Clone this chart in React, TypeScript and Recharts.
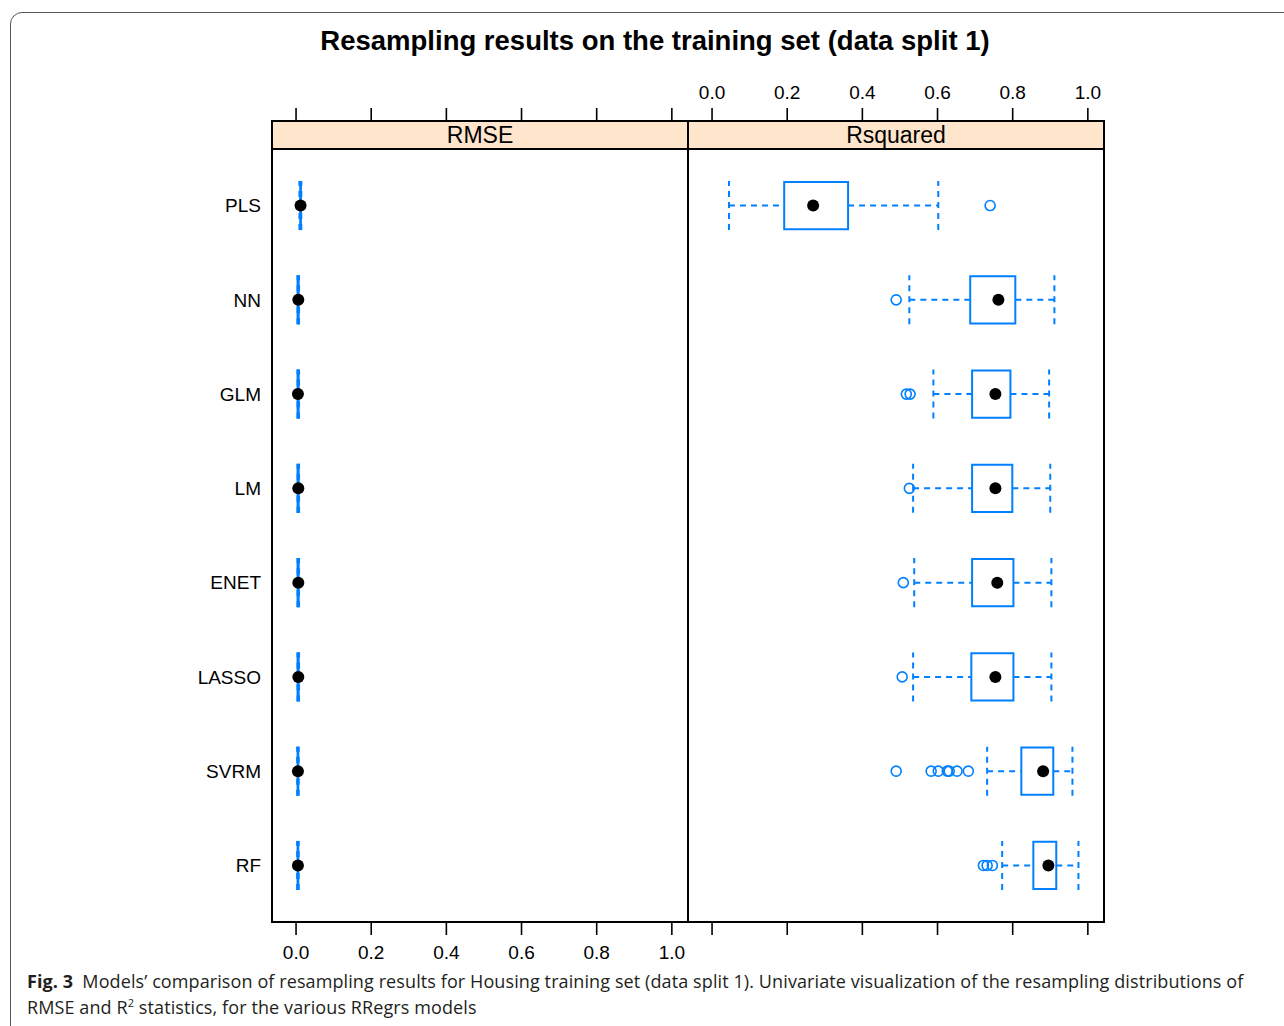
import React from 'react';
import { ComposedChart, XAxis, YAxis, Scatter, ReferenceArea, ReferenceLine } from 'recharts';

const MODELS = ['PLS', 'NN', 'GLM', 'LM', 'ENET', 'LASSO', 'SVRM', 'RF'];
const X_TICKS = [0, 0.2, 0.4, 0.6, 0.8, 1.0];
const Y_TICKS = [1, 2, 3, 4, 5, 6, 7, 8];

const RMSE_MIN = [0.009, 0.004, 0.004, 0.004, 0.004, 0.004, 0.003, 0.003];
const RMSE_Q1 = [0.011, 0.004, 0.004, 0.004, 0.004, 0.004, 0.004, 0.004];
const RMSE_MED = [0.012, 0.006, 0.005, 0.006, 0.006, 0.006, 0.005, 0.005];
const RMSE_Q3 = [0.013, 0.007, 0.007, 0.007, 0.007, 0.007, 0.006, 0.006];
const RMSE_MAX = [0.014, 0.008, 0.008, 0.008, 0.008, 0.008, 0.007, 0.007];
const RMSE_OUT: number[][] = [[], [], [], [], [], [], [], []];

const RSQ_MIN = [0.045, 0.525, 0.589, 0.535, 0.538, 0.535, 0.732, 0.772];
const RSQ_Q1 = [0.192, 0.687, 0.692, 0.692, 0.692, 0.69, 0.823, 0.855];
const RSQ_MED = [0.269, 0.762, 0.754, 0.754, 0.759, 0.754, 0.881, 0.895];
const RSQ_Q3 = [0.362, 0.807, 0.794, 0.799, 0.802, 0.802, 0.908, 0.916];
const RSQ_MAX = [0.602, 0.911, 0.897, 0.9, 0.903, 0.903, 0.959, 0.975];
const RSQ_OUT: number[][] = [
  [0.74],
  [0.49],
  [0.517, 0.527],
  [0.525],
  [0.509],
  [0.506],
  [0.49, 0.583, 0.602, 0.626, 0.631, 0.652, 0.682],
  [0.722, 0.732, 0.746],
];

const X_DOMAIN: [number, number] = [-0.064, 1.043];
const Y_DOMAIN: [number, number] = [0.4, 8.897];
const STRIP_BOTTOM = 8.6;
const BLUE = '#0080ff';
const FONT = '"Liberation Sans", Arial, Helvetica, sans-serif';

type Stats = { min: number[]; q1: number[]; med: number[]; q3: number[]; max: number[]; out: number[][] };

const StripLabel = (props: any) => {
  const vb = props.viewBox || {};
  return (
    <text
      x={vb.x + vb.width / 2}
      y={vb.y + vb.height / 2}
      textAnchor="middle"
      dominantBaseline="central"
      fontSize={23}
      fontFamily={FONT}
      fill="#000"
    >
      {props.text}
    </text>
  );
};

const MedianDot = (props: any) => <circle cx={props.cx} cy={props.cy} r={6} fill="#000" />;
const OutlierDot = (props: any) => (
  <circle cx={props.cx} cy={props.cy} r={5} fill="none" stroke={BLUE} strokeWidth={1.6} />
);

const fmt = (v: number) => v.toFixed(1);
const blank = () => '';

function Panel({
  name,
  stats,
  left,
  leftAxisWidth,
  showYLabels,
  showTopLabels,
  showBottomLabels,
}: {
  name: string;
  stats: Stats;
  left: number;
  leftAxisWidth: number;
  showYLabels: boolean;
  showTopLabels: boolean;
  showBottomLabels: boolean;
}) {
  const width = leftAxisWidth + 416 + 16;
  const medData = MODELS.map((m, i) => ({ x: stats.med[i], y: 8 - i }));
  const outData: { x: number; y: number }[] = [];
  MODELS.forEach((m, i) => stats.out[i].forEach((v) => outData.push({ x: v, y: 8 - i })));
  const half = 0.25;
  const cap = 0.26;
  const dash = '6 5';
  const lineProps = { stroke: BLUE, strokeWidth: 2, strokeDasharray: dash, ifOverflow: 'visible' as const };
  const tickStyle = { fontSize: 19, fill: '#000', fontFamily: FONT };

  return (
    <div style={{ position: 'absolute', left, top: 0 }}>
      <ComposedChart width={width} height={962} margin={{ top: 0, right: 16, bottom: 0, left: 0 }}>
        <XAxis
          xAxisId={0}
          dataKey="x"
          type="number"
          orientation="bottom"
          domain={X_DOMAIN}
          allowDataOverflow
          ticks={X_TICKS}
          interval={0}
          height={40}
          tickSize={13}
          tickMargin={11}
          tick={tickStyle}
          tickFormatter={showBottomLabels ? fmt : blank}
          axisLine={false}
          tickLine={{ stroke: '#000', strokeWidth: 1.6 }}
        />
        <XAxis
          xAxisId="t"
          dataKey="x"
          type="number"
          orientation="top"
          domain={X_DOMAIN}
          allowDataOverflow
          ticks={X_TICKS}
          interval={0}
          height={121}
          tickSize={13}
          tickMargin={9}
          tick={tickStyle}
          tickFormatter={showTopLabels ? fmt : blank}
          axisLine={false}
          tickLine={{ stroke: '#000', strokeWidth: 1.6 }}
        />
        <YAxis
          yAxisId={0}
          dataKey="y"
          type="number"
          orientation="left"
          domain={Y_DOMAIN}
          allowDataOverflow
          ticks={Y_TICKS}
          interval={0}
          width={leftAxisWidth}
          tickSize={0}
          tickMargin={11}
          tickLine={false}
          tick={showYLabels ? tickStyle : false}
          tickFormatter={(v: number) => MODELS[8 - v] ?? ''}
          axisLine={false}
        />
        <ReferenceArea
          x1={X_DOMAIN[0]}
          x2={X_DOMAIN[1]}
          y1={STRIP_BOTTOM}
          y2={Y_DOMAIN[1]}
          fill="#ffe5cc"
          fillOpacity={1}
          stroke="none"
          ifOverflow="visible"
          label={<StripLabel text={name} />}
        />
        <ReferenceLine y={STRIP_BOTTOM} stroke="#000" strokeWidth={2} ifOverflow="visible" />
        <ReferenceArea
          x1={X_DOMAIN[0]}
          x2={X_DOMAIN[1]}
          y1={Y_DOMAIN[0]}
          y2={Y_DOMAIN[1]}
          fill="none"
          fillOpacity={0}
          stroke="#000"
          strokeWidth={2}
          strokeOpacity={1}
          ifOverflow="visible"
        />
        {MODELS.map((m, i) => {
          const y = 8 - i;
          return [
            <ReferenceLine
              key={`wl${i}`}
              segment={[{ x: stats.min[i], y }, { x: stats.q1[i], y }]}
              {...lineProps}
            />,
            <ReferenceLine
              key={`wh${i}`}
              segment={[{ x: stats.q3[i], y }, { x: stats.max[i], y }]}
              {...lineProps}
            />,
            <ReferenceLine
              key={`cl${i}`}
              segment={[{ x: stats.min[i], y: y - cap }, { x: stats.min[i], y: y + cap }]}
              {...lineProps}
            />,
            <ReferenceLine
              key={`ch${i}`}
              segment={[{ x: stats.max[i], y: y - cap }, { x: stats.max[i], y: y + cap }]}
              {...lineProps}
            />,
            <ReferenceArea
              key={`b${i}`}
              x1={stats.q1[i]}
              x2={stats.q3[i]}
              y1={y - half}
              y2={y + half}
              fill="#fff"
              fillOpacity={0}
              stroke={BLUE}
              strokeWidth={2}
              strokeOpacity={1}
              ifOverflow="visible"
            />,
          ];
        })}
        <Scatter data={outData} shape={<OutlierDot />} isAnimationActive={false} />
        <Scatter data={medData} shape={<MedianDot />} isAnimationActive={false} />
      </ComposedChart>
    </div>
  );
}

export default function App() {
  const rmse: Stats = { min: RMSE_MIN, q1: RMSE_Q1, med: RMSE_MED, q3: RMSE_Q3, max: RMSE_MAX, out: RMSE_OUT };
  const rsq: Stats = { min: RSQ_MIN, q1: RSQ_Q1, med: RSQ_MED, q3: RSQ_Q3, max: RSQ_MAX, out: RSQ_OUT };
  return (
    <div
      style={{
        position: 'absolute',
        left: 0,
        top: 0,
        width: 1284,
        height: 1026,
        overflow: 'hidden',
        background: '#fff',
        fontFamily: FONT,
      }}
    >
      <div
        style={{
          position: 'absolute',
          left: 10,
          top: 12,
          width: 1320,
          height: 1040,
          border: '1px solid #555',
          borderRadius: 12,
        }}
      />
      <div
        style={{
          position: 'absolute',
          left: 655,
          top: 25,
          transform: 'translateX(-50%)',
          whiteSpace: 'nowrap',
          fontSize: 27.5,
          fontWeight: 'bold',
          fontFamily: FONT,
          lineHeight: '32px',
        }}
      >
        Resampling results on the training set (data split 1)
      </div>
      <Panel name="RMSE" stats={rmse} left={0} leftAxisWidth={272} showYLabels showTopLabels={false} showBottomLabels />
      <Panel name="Rsquared" stats={rsq} left={600} leftAxisWidth={88} showYLabels={false} showTopLabels showBottomLabels={false} />
      <div
        style={{
          position: 'absolute',
          left: 27,
          top: 968,
          width: 1257,
          whiteSpace: 'nowrap',
          fontFamily: '"Open Sans", "Noto Sans", sans-serif',
          fontSize: 18,
          lineHeight: '26px',
          color: '#231f20',
          letterSpacing: 0.1,
        }}
      >
        <span style={{ fontWeight: 'bold' }}>Fig. 3</span>
        {'\u2002'}Models’ comparison of resampling results for Housing training set (data split 1). Univariate visualization of the resampling distributions of
        <br />
        RMSE and R<sup style={{ fontSize: 11, lineHeight: 0 }}>2</sup> statistics, for the various RRegrs models
      </div>
    </div>
  );
}
